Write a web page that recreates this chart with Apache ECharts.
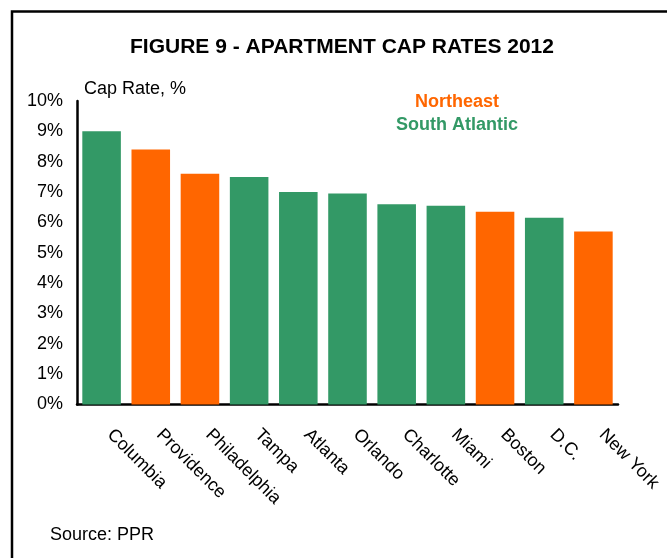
<!DOCTYPE html>
<html>
<head>
<meta charset="utf-8">
<script src="https://cdn.jsdelivr.net/npm/echarts@6/dist/echarts.min.js"></script>
<style>
  html, body { margin: 0; padding: 0; background: #fff; }
  #chart { width: 667px; height: 558px; }
</style>
</head>
<body>
<div id="chart"></div>
<script>
const cities = ["Columbia", "Providence", "Philadelphia", "Tampa", "Atlanta", "Orlando", "Charlotte", "Miami", "Boston", "D.C.", "New York"];
const capRates = [9.0, 8.4, 7.6, 7.5, 7.0, 6.95, 6.6, 6.55, 6.35, 6.15, 5.7];
const regions = ["SA", "NE", "NE", "SA", "SA", "SA", "SA", "SA", "NE", "SA", "NE"];
const regionColors = { NE: "#FF6600", SA: "#339966" };

const font = "Arial, 'Liberation Sans', sans-serif";
const chart = echarts.init(document.getElementById("chart"));

chart.setOption({
  animation: false,
  title: [
    {
      text: "FIGURE 9 - APARTMENT CAP RATES 2012",
      left: 342,
      top: 37,
      padding: 0,
      textAlign: "center",
      textStyle: { fontFamily: font, fontSize: 21, fontWeight: "bold", color: "#000" }
    },
    {
      text: "Cap Rate, %",
      left: 84,
      top: 80,
      padding: 0,
      textStyle: { fontFamily: font, fontSize: 18, fontWeight: "normal", color: "#000" }
    },
    {
      text: "Northeast",
      left: 457,
      top: 93,
      padding: 0,
      textAlign: "center",
      textStyle: { fontFamily: font, fontSize: 18, fontWeight: "bold", color: regionColors.NE }
    },
    {
      text: "South Atlantic",
      left: 457,
      top: 116,
      padding: 0,
      textAlign: "center",
      textStyle: { fontFamily: font, fontSize: 18, fontWeight: "bold", color: regionColors.SA }
    },
    {
      text: "Source: PPR",
      left: 50,
      top: 526,
      padding: 0,
      textStyle: { fontFamily: font, fontSize: 18, fontWeight: "normal", color: "#000" }
    }
  ],
  graphic: [
    {
      type: "rect",
      shape: { x: 12, y: 11.5, width: 700, height: 600 },
      style: { fill: "none", stroke: "#000", lineWidth: 2.5 }
    }
  ],
  grid: { left: 77, top: 101, right: 49, bottom: 153.5 },
  xAxis: {
    type: "category",
    data: cities,
    axisLine: { lineStyle: { color: "#000", width: 2.5 } },
    axisTick: { show: false },
    axisLabel: {
      rotate: -45,
      interval: 0,
      margin: 19,
      padding: [0, 0, 0, 12],
      fontFamily: font,
      fontSize: 18,
      color: "#000"
    }
  },
  yAxis: {
    type: "value",
    min: 0,
    max: 10,
    interval: 1,
    splitLine: { show: false },
    axisLine: { show: true, lineStyle: { color: "#000", width: 2.5 } },
    axisTick: { show: false },
    axisLabel: {
      formatter: "{value}%",
      margin: 14,
      fontFamily: font,
      fontSize: 18,
      color: "#000"
    }
  },
  series: [
    {
      type: "bar",
      barCategoryGap: "21.6%",
      data: capRates.map((v, i) => ({ value: v, itemStyle: { color: regionColors[regions[i]] } }))
    }
  ]
});
</script>
</body>
</html>
